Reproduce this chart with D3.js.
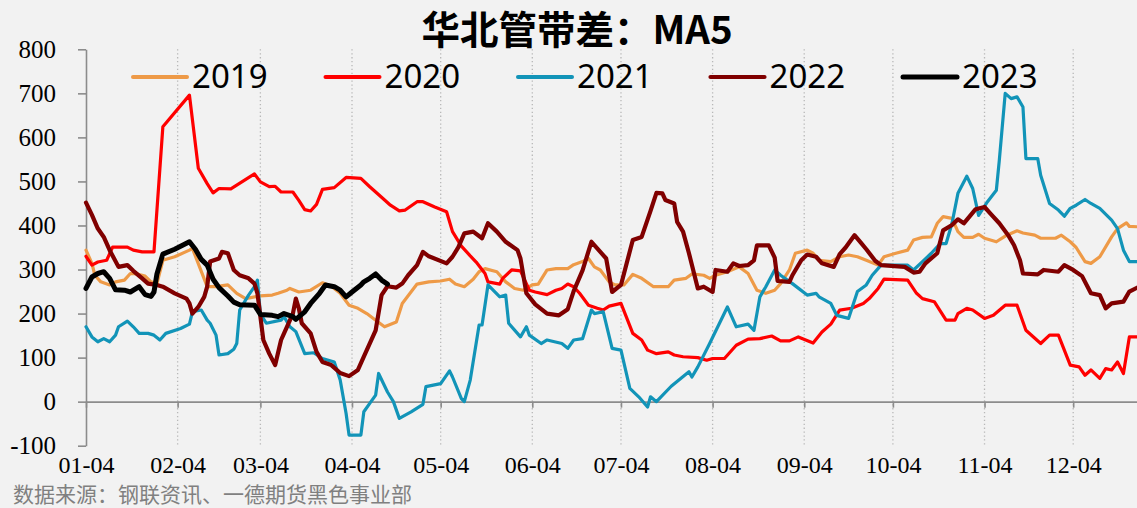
<!DOCTYPE html>
<html>
<head>
<meta charset="utf-8">
<script src="https://cdn.jsdelivr.net/npm/d3@7"></script>
<style>
  html, body { margin: 0; padding: 0; background: #f2f2f2; }
  svg { display: block; }
</style>
</head>
<body>
<svg id="chart" width="1137" height="508"></svg>
<script>
// Daily MA5 spread (pipe minus strip), North China, by calendar day (MM-DD)
const s2019 = [["01-04",344],["01-06",314],["01-07",287],["01-09",272],["01-12",265],["01-14",272],["01-17",276],["01-19",291],["01-21",290],["01-24",285],["01-26",272],["01-28",268],["01-30",321],["02-03",329],["02-08",344],["02-09",348],["02-14",261],["02-17",261],["02-21",265],["02-24",246],["02-27",234],["03-04",240],["03-08",242],["03-10",246],["03-13",253],["03-14",257],["03-17",249],["03-21",253],["03-25",270],["03-28",262],["03-31",246],["04-03",219],["04-06",212],["04-09",200],["04-12",185],["04-15",170],["04-19",181],["04-21",223],["04-26",267],["04-30",272],["05-04",274],["05-07",278],["05-09",267],["05-12",261],["05-15",278],["05-17",295],["05-19",302],["05-23",295],["05-26",272],["05-29",257],["06-01",253],["06-04",265],["06-06",267],["06-09",299],["06-12",302],["06-16",302],["06-18",311],["06-21",318],["06-23",325],["06-25",306],["06-27",299],["06-30",272],["07-02",265],["07-05",265],["07-08",289],["07-11",280],["07-15",261],["07-20",261],["07-22",276],["07-26",280],["07-28",290],["08-01",287],["08-03",280],["08-05",287],["08-09",295],["08-13",306],["08-16",291],["08-19",253],["08-22",246],["08-25",253],["08-27",268],["08-30",299],["09-01",337],["09-05",344],["09-07",337],["09-09",321],["09-13",318],["09-16",329],["09-19",333],["09-22",329],["09-25",321],["09-29",310],["10-01",329],["10-05",337],["10-09",344],["10-11",367],["10-14",373],["10-17",374],["10-19",405],["10-21",420],["10-24",416],["10-26",386],["10-28",373],["10-31",373],["11-02",380],["11-04",371],["11-08",363],["11-11",376],["11-15",388],["11-17",383],["11-21",378],["11-23",371],["11-28",371],["11-30",378],["12-03",363],["12-05",350],["12-08",318],["12-10",314],["12-13",329],["12-17",374],["12-19",393],["12-22",406],["12-23",398],["12-26",397]];

const s2020 = [["01-04",330],["01-06",310],["01-08",317],["01-11",321],["01-13",351],["01-18",351],["01-20",344],["01-23",340],["01-27",340],["01-30",624],["02-08",696],["02-11",530],["02-14",495],["02-16",474],["02-18",484],["02-22",483],["03-02",517],["03-04",499],["03-07",488],["03-09",489],["03-11",476],["03-15",476],["03-17",457],["03-19",436],["03-21",433],["03-23",448],["03-25",482],["03-29",486],["04-02",509],["04-07",507],["04-10",488],["04-14",464],["04-17",446],["04-20",433],["04-22",435],["04-26",454],["04-28",454],["05-02",442],["05-06",431],["05-08",386],["05-11",353],["05-14",331],["05-16",317],["05-19",291],["05-20",272],["05-24",267],["05-25",280],["05-28",299],["05-31",297],["06-03",253],["06-05",249],["06-09",243],["06-12",253],["06-14",257],["06-16",267],["06-18",261],["06-20",246],["06-23",219],["06-26",212],["06-28",208],["06-30",217],["07-04",223],["07-08",155],["07-11",140],["07-13",117],["07-16",109],["07-20",113],["07-22",106],["07-25",102],["07-30",100],["08-02",94],["08-04",98],["08-08",98],["08-12",128],["08-16",142],["08-20",143],["08-24",149],["08-27",138],["08-30",138],["09-02",147],["09-07",133],["09-10",158],["09-13",176],["09-16",208],["09-20",212],["09-24",223],["09-26",234],["09-29",257],["10-01",278],["10-09",276],["10-12",246],["10-14",234],["10-18",227],["10-22",185],["10-25",185],["10-26",200],["10-29",212],["10-31",208],["11-04",189],["11-07",196],["11-11",219],["11-15",219],["11-18",162],["11-23",132],["11-26",151],["11-29",151],["12-03",83],["12-06",79],["12-08",60],["12-10",72],["12-13",53],["12-15",75],["12-17",72],["12-19",90],["12-21",64],["12-23",147],["12-26",147]];

const s2021 = [["01-04",170],["01-06",147],["01-08",136],["01-10",143],["01-12",136],["01-14",151],["01-15",170],["01-18",183],["01-20",170],["01-22",155],["01-25",155],["01-27",151],["01-29",140],["01-31",155],["02-05",166],["02-08",176],["02-09",204],["02-12",208],["02-14",185],["02-15",178],["02-17",151],["02-18",106],["02-21",109],["02-23",119],["02-24",132],["02-25",208],["02-28",242],["03-02",261],["03-03",276],["03-04",200],["03-06",178],["03-11",185],["03-12",193],["03-14",170],["03-16",159],["03-19",109],["03-22",111],["03-25",98],["03-29",90],["03-31",49],["04-02",-27],["04-03",-76],["04-07",-76],["04-08",-23],["04-10",-4],["04-12",15],["04-13",64],["04-16",22],["04-18",0],["04-20",-38],["04-24",-23],["04-28",-6],["04-29",34],["05-04",41],["05-07",70],["05-08",56],["05-11",7],["05-12",0],["05-14",49],["05-17",174],["05-18",174],["05-20",265],["05-24",238],["05-26",242],["05-27",178],["05-31",147],["06-02",170],["06-03",151],["06-07",132],["06-09",140],["06-14",132],["06-16",121],["06-18",140],["06-21",143],["06-24",208],["06-25",200],["06-28",204],["07-01",121],["07-04",117],["07-07",30],["07-10",11],["07-13",-12],["07-14",11],["07-16",0],["07-21",35],["07-27",68],["07-28",56],["07-30",79],["08-03",132],["08-09",215],["08-12",170],["08-16",176],["08-18",162],["08-20",238],["08-22",261],["08-25",299],["08-27",287],["08-31",268],["09-05",242],["09-08",246],["09-09",238],["09-13",223],["09-15",196],["09-19",189],["09-22",250],["09-25",265],["09-27",287],["09-30",310],["10-09",310],["10-11",299],["10-14",318],["10-17",337],["10-20",359],["10-22",359],["10-24",405],["10-26",473],["10-29",512],["10-31",484],["11-02",423],["11-05",454],["11-08",480],["11-09",548],["11-11",700],["11-13",688],["11-15",692],["11-17",669],["11-18",552],["11-22",552],["11-23",514],["11-26",450],["11-29",435],["12-01",421],["12-03",439],["12-05",446],["12-08",459],["12-10",450],["12-13",439],["12-17",412],["12-19",393],["12-21",344],["12-23",318],["12-26",318]];

const s2022 = [["01-04",452],["01-06",424],["01-08",393],["01-10",374],["01-12",344],["01-15",306],["01-18",310],["01-20",297],["01-23",280],["01-25",268],["01-28",265],["01-30",261],["02-03",246],["02-07",234],["02-08",223],["02-09",200],["02-11",215],["02-13",238],["02-14",261],["02-15",318],["02-18",325],["02-19",340],["02-21",337],["02-23",299],["02-25",287],["02-28",280],["03-02",268],["03-03",246],["03-05",140],["03-07",109],["03-09",83],["03-11",140],["03-12",155],["03-15",200],["03-16",234],["03-17",212],["03-18",178],["03-21",155],["03-23",113],["03-25",90],["03-28",83],["03-31",65],["04-03",58],["04-06",72],["04-08",102],["04-12",162],["04-14",242],["04-16",262],["04-19",259],["04-21",268],["04-23",287],["04-26",310],["04-28",340],["04-30",330],["05-06",314],["05-08",329],["05-10",351],["05-12",382],["05-15",386],["05-18",371],["05-20",405],["05-23",386],["05-26",363],["05-30",344],["05-31",325],["06-02",246],["06-05",221],["06-09",200],["06-13",196],["06-16",210],["06-18",251],["06-21",298],["06-24",363],["06-29",325],["07-01",249],["07-04",265],["07-08",367],["07-11",374],["07-14",433],["07-16",474],["07-18",473],["07-19",458],["07-22",450],["07-23",408],["07-25",386],["07-27",337],["07-30",257],["08-01",261],["08-04",249],["08-05",299],["08-09",295],["08-11",314],["08-13",308],["08-16",310],["08-18",321],["08-19",355],["08-23",355],["08-25",327],["08-26",274],["08-30",272],["08-31",287],["09-03",321],["09-05",334],["09-08",329],["09-10",314],["09-14",306],["09-16",335],["09-18",350],["09-21",378],["09-23",362],["09-25",346],["09-28",320],["09-30",310],["10-08",306],["10-11",293],["10-13",295],["10-15",314],["10-19",337],["10-21",389],["10-24",401],["10-26",414],["10-28",405],["11-01",437],["11-04",442],["11-06",427],["11-09",405],["11-12",378],["11-14",355],["11-16",321],["11-17",291],["11-22",289],["11-24",299],["11-29",295],["12-01",310],["12-04",299],["12-07",285],["12-10",246],["12-13",242],["12-15",212],["12-17",223],["12-21",227],["12-23",250],["12-26",260]];

const s2023 = [["01-04",257],["01-06",283],["01-08",291],["01-10",295],["01-12",280],["01-14",254],["01-17",253],["01-19",249],["01-22",261],["01-24",243],["01-26",239],["01-27",249],["01-28",290],["01-30",335],["02-03",346],["02-06",356],["02-08",363],["02-10",346],["02-12",323],["02-14",310],["02-16",278],["02-18",259],["02-21",240],["02-23",226],["02-25",220],["03-02",219],["03-04",198],["03-08",196],["03-10",193],["03-12",200],["03-15",193],["03-16",187],["03-19",204],["03-21",223],["03-24",246],["03-26",265],["03-29",261],["03-31",253],["04-02",238],["04-04",249],["04-07",265],["04-08",272],["04-10",280],["04-12",290],["04-14",276],["04-16",267]];

const seriesNames = ["2019", "2020", "2021", "2022", "2023"];
const seriesColors = ["#EE9A47", "#FF0000", "#1294B8", "#800000", "#000000"];
const seriesWidths = [3.2, 3.2, 3.2, 4.2, 5];
const seriesData = [s2019, s2020, s2021, s2022, s2023];

const monthTicks = ["01-04","02-04","03-04","04-04","05-04","06-04","07-04","08-04","09-04","10-04","11-04","12-04"];
const yTicks = [-100, 0, 100, 200, 300, 400, 500, 600, 700, 800];

const titleText = "华北管带差：MA5";
const sourceText = "数据来源：钢联资讯、一德期货黑色事业部";

const parseDay = d3.timeParse("%Y-%m-%d");
const toDate = s => parseDay("2001-" + s);

const svg = d3.select("#chart");
const W = 1137, H = 508;

svg.append("rect").attr("width", W).attr("height", H).attr("fill", "#f2f2f2");

const x = d3.scaleTime()
  .domain([toDate("01-04"), toDate("12-31")])
  .range([86, 1153]);
const y = d3.scaleLinear()
  .domain([-100, 800])
  .range([445.7, 49.3]);

const serif = "'Liberation Serif', 'Times New Roman', serif";
const cjk = "'Noto Sans CJK SC', 'Noto Sans', sans-serif";

// vertical dotted month gridlines
svg.append("g")
  .selectAll("line")
  .data(monthTicks.slice(1))
  .join("line")
  .attr("x1", d => x(toDate(d))).attr("x2", d => x(toDate(d)))
  .attr("y1", y(800)).attr("y2", y(-100))
  .attr("stroke", "#b8b8b8")
  .attr("stroke-width", 1.3)
  .attr("stroke-dasharray", "1.3,2.6");

// y axis
const yAxis = svg.append("g")
  .attr("transform", "translate(86,0)")
  .call(d3.axisLeft(y).tickValues(yTicks).tickSize(8).tickSizeOuter(0)
    .tickPadding(22).tickFormat(d => String(d)));
yAxis.select(".domain").attr("stroke", "#8c8c8c").attr("stroke-width", 1.6);
yAxis.selectAll(".tick line").attr("stroke", "#8c8c8c").attr("stroke-width", 1.6);
yAxis.selectAll(".tick text")
  .attr("font-family", serif).attr("font-size", 25).attr("fill", "#000");

// zero line with month tick marks
const xAxis = svg.append("g")
  .attr("transform", `translate(0,${y(0)})`)
  .call(d3.axisBottom(x).tickValues(monthTicks.map(toDate)).tickSize(6)
    .tickSizeOuter(0).tickFormat(""));
xAxis.select(".domain").attr("stroke", "#8c8c8c").attr("stroke-width", 1.6);
xAxis.selectAll(".tick line").attr("stroke", "#8c8c8c").attr("stroke-width", 1.6);

// month labels along the bottom
const xLabels = svg.append("g")
  .attr("transform", `translate(0,${y(-100)})`)
  .call(d3.axisBottom(x).tickValues(monthTicks.map(toDate)).tickSize(0)
    .tickPadding(10).tickFormat(d3.timeFormat("%m-%d")));
xLabels.select(".domain").remove();
xLabels.selectAll(".tick text")
  .attr("font-family", serif).attr("font-size", 24).attr("fill", "#000");

// series lines
const line = d3.line()
  .x(d => x(toDate(d[0])))
  .y(d => y(d[1]));

svg.append("g")
  .selectAll("path")
  .data(seriesData)
  .join("path")
  .attr("d", line)
  .attr("fill", "none")
  .attr("stroke", (d, i) => seriesColors[i])
  .attr("stroke-width", (d, i) => seriesWidths[i])
  .attr("stroke-linejoin", "round")
  .attr("stroke-linecap", "round");

// legend
const legend = svg.append("g").attr("transform", "translate(133,77)");
const item = legend.selectAll("g")
  .data(seriesNames)
  .join("g")
  .attr("transform", (d, i) => `translate(${i * 192.5},0)`);
item.append("line")
  .attr("x1", 0).attr("x2", 54).attr("y1", 0).attr("y2", 0)
  .attr("stroke", (d, i) => seriesColors[i])
  .attr("stroke-width", (d, i) => Math.max(4, seriesWidths[i]))
  .attr("stroke-linecap", "round");
item.append("text")
  .attr("x", 59).attr("y", 11)
  .attr("font-family", "'Noto Sans', sans-serif")
  .attr("font-size", 33)
  .attr("fill", "#000")
  .text(d => d);

// title
svg.append("text")
  .attr("x", 577).attr("y", 44)
  .attr("text-anchor", "middle")
  .attr("font-family", cjk)
  .attr("font-weight", "bold")
  .attr("font-size", 38.5)
  .attr("fill", "#000")
  .text(titleText);

// data source note
svg.append("text")
  .attr("x", 13).attr("y", 502.3)
  .attr("font-family", cjk)
  .attr("font-size", 21)
  .attr("fill", "#808080")
  .text(sourceText);
</script>
</body>
</html>
